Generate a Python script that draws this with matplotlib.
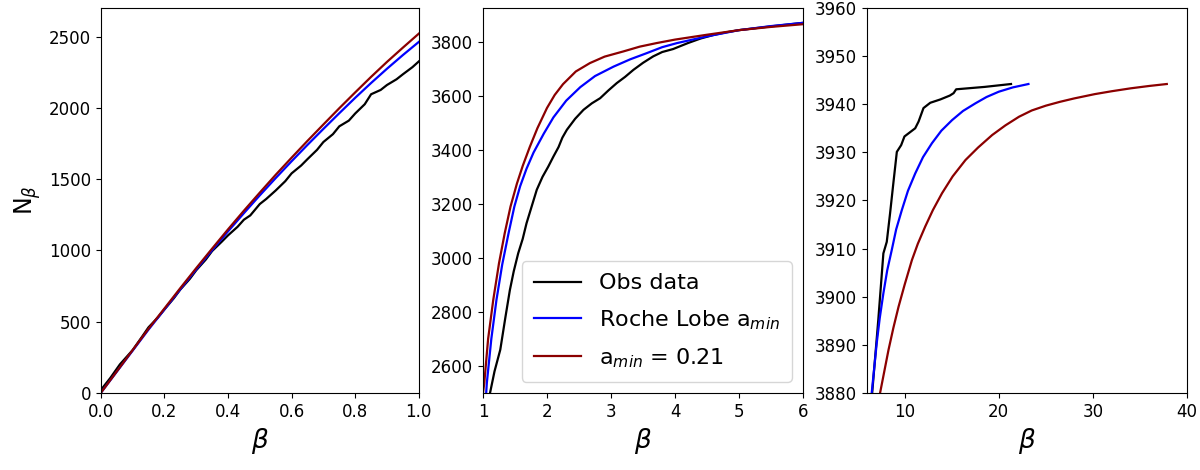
import numpy as np
import matplotlib
matplotlib.use('Agg')
import matplotlib.pyplot as plt

# Panel 1: beta in [0, 1]
beta_a = [0.0, 0.05, 0.1, 0.15, 0.2, 0.25, 0.3, 0.35, 0.4, 0.45, 0.5,
          0.55, 0.6, 0.65, 0.7, 0.75, 0.8, 0.85, 0.9, 0.95, 1.0]
red_a = [0, 150, 300, 450, 592, 735, 875, 1012, 1147, 1278, 1405,
         1530, 1650, 1768, 1883, 1997, 2108, 2217, 2322, 2422, 2520]
blue_a = [0, 148, 296, 444, 585, 727, 866, 1001, 1133, 1261, 1386,
          1507, 1625, 1740, 1852, 1962, 2070, 2174, 2274, 2370, 2462]
obs_beta_a = [0.0, 0.03, 0.06, 0.08, 0.1, 0.13, 0.15, 0.18, 0.2, 0.23, 0.25,
              0.28, 0.3, 0.33, 0.35, 0.38, 0.4, 0.43, 0.45, 0.47, 0.5, 0.52,
              0.55, 0.58, 0.6, 0.63, 0.65, 0.68, 0.7, 0.73, 0.75, 0.78, 0.8,
              0.83, 0.85, 0.88, 0.9, 0.93, 0.95, 0.98, 1.0]
obs_a = [20, 105, 200, 250, 300, 395, 460, 530, 585, 665, 725,
         800, 860, 935, 995, 1060, 1105, 1165, 1215, 1245, 1325, 1360,
         1420, 1485, 1540, 1595, 1640, 1705, 1760, 1815, 1870, 1910, 1960,
         2025, 2095, 2125, 2160, 2200, 2235, 2285, 2325]

# Panel 2: beta in [1, 6]
beta_b_red = [1.0, 1.02, 1.08, 1.16, 1.25, 1.34, 1.43, 1.53, 1.62, 1.73,
              1.85, 2.0, 2.12, 2.25, 2.45, 2.67, 2.9, 3.19, 3.45, 3.71,
              4.0, 4.5, 5.0, 5.5, 6.0]
red_b = [2500, 2537, 2700, 2844, 2980, 3092, 3190, 3275, 3340, 3410,
         3480, 3555, 3603, 3643, 3690, 3721, 3745, 3764, 3782, 3795,
         3808, 3826, 3843, 3855, 3865]
beta_b_blue = [1.05, 1.06, 1.13, 1.21, 1.3, 1.4, 1.49, 1.58, 1.68, 1.79,
               1.95, 2.1, 2.3, 2.52, 2.75, 3.04, 3.3, 3.56, 3.8, 4.03,
               4.5, 5.0, 5.5, 6.0]
blue_b = [2500, 2537, 2700, 2844, 2975, 3092, 3190, 3265, 3330, 3390,
          3460, 3520, 3582, 3632, 3673, 3708, 3735, 3758, 3780, 3795,
          3820, 3843, 3858, 3870]
obs_beta_b = [1.11, 1.18, 1.27, 1.35, 1.42, 1.48, 1.55, 1.62, 1.68, 1.76,
              1.84, 1.93, 2.02, 2.1, 2.18, 2.24, 2.31, 2.44, 2.57, 2.7,
              2.83, 2.96, 3.09, 3.22, 3.35, 3.5, 3.66, 3.8, 3.97, 4.2,
              4.4, 4.6, 4.8, 5.0, 5.5, 6.0]
obs_b = [2500, 2580, 2660, 2780, 2881, 2950, 3017, 3070, 3128, 3190,
         3252, 3300, 3338, 3375, 3410, 3445, 3474, 3515, 3548, 3572,
         3591, 3620, 3647, 3670, 3696, 3722, 3746, 3762, 3773, 3795,
         3812, 3825, 3835, 3843, 3857, 3870]

# Panel 3: beta in [6, 40]
beta_c_red = [7.39, 8.28, 8.8, 9.35, 10.0, 10.77, 11.4, 12.19, 13.0, 13.97,
              15.1, 16.46, 17.8, 19.3, 20.7, 22.15, 23.5, 25.0, 26.5, 28.0,
              30.2, 32.0, 34.0, 36.0, 37.85]
red_c = [3880, 3888.9, 3893.5, 3897.9, 3902.5, 3907.6, 3911, 3914.6, 3918,
         3921.5, 3925, 3928.4, 3931, 3933.6, 3935.6, 3937.4, 3938.7, 3939.7,
         3940.5, 3941.2, 3942.1, 3942.7, 3943.3, 3943.8, 3944.2]
beta_c_blue = [6.5, 7.03, 7.35, 7.74, 8.15, 8.63, 9.1, 9.7, 10.35, 11.12,
               11.95, 12.9, 13.9, 15.04, 16.2, 17.53, 18.7, 20.0, 21.5, 23.15]
blue_c = [3880, 3890.3, 3895.5, 3900.7, 3905.5, 3909.7, 3914, 3918, 3922,
          3925.6, 3929, 3931.9, 3934.5, 3936.7, 3938.6, 3940.2, 3941.5,
          3942.6, 3943.5, 3944.2]
obs_beta_c = [6.55, 7.2, 7.74, 8.1, 8.45, 8.8, 9.17, 9.63, 9.98, 11.12,
              11.48, 12.0, 12.72, 13.8, 14.8, 15.2, 15.47, 18.5, 21.3]
obs_c = [3880, 3895.2, 3909, 3911.4, 3917.3, 3923.6, 3930.1, 3931.5, 3933.3,
         3935, 3936.4, 3939.2, 3940.3, 3941, 3941.8, 3942.3, 3943.1, 3943.6,
         3944.2]

obs_color = 'black'
blue_color = 'blue'
red_color = '#8b0000'
lw = 1.6

fig = plt.figure(figsize=(12, 4.7), dpi=100)
ax1 = fig.add_axes([0.084, 0.164, 0.265, 0.819])
ax2 = fig.add_axes([0.4025, 0.164, 0.2667, 0.819])
ax3 = fig.add_axes([0.7225, 0.164, 0.2667, 0.819])

# first panel
ax1.plot(obs_beta_a, obs_a, color=obs_color, lw=lw)
ax1.plot(beta_a, blue_a, color=blue_color, lw=lw)
ax1.plot(beta_a, red_a, color=red_color, lw=lw)
ax1.set_xlim(0, 1)
ax1.set_ylim(0, 2700)
ax1.set_ylabel(r'N$_\beta$', fontsize=17)

# second panel
ax2.plot(obs_beta_b, obs_b, color=obs_color, lw=lw, label='Obs data')
ax2.plot(beta_b_blue, blue_b, color=blue_color, lw=lw, label=r'Roche Lobe a$_{min}$')
ax2.plot(beta_b_red, red_b, color=red_color, lw=lw, label=r'a$_{min}$ = 0.21')
ax2.set_xlim(1, 6)
ax2.set_ylim(2500, 3925)
ax2.legend(loc='lower right', fontsize=16, handlelength=2.1,
           labelspacing=0.65, borderpad=0.55)

# third panel
ax3.plot(obs_beta_c, obs_c, color=obs_color, lw=lw)
ax3.plot(beta_c_blue, blue_c, color=blue_color, lw=lw)
ax3.plot(beta_c_red, red_c, color=red_color, lw=lw)
ax3.set_xlim(6, 40)
ax3.set_ylim(3880, 3960)
ax3.set_xticks([10, 20, 30, 40])

for ax in (ax1, ax2, ax3):
    ax.set_xlabel(r'$\beta$', fontsize=19)
    ax.tick_params(labelsize=12)

fig.savefig('out.png', dpi=100)
